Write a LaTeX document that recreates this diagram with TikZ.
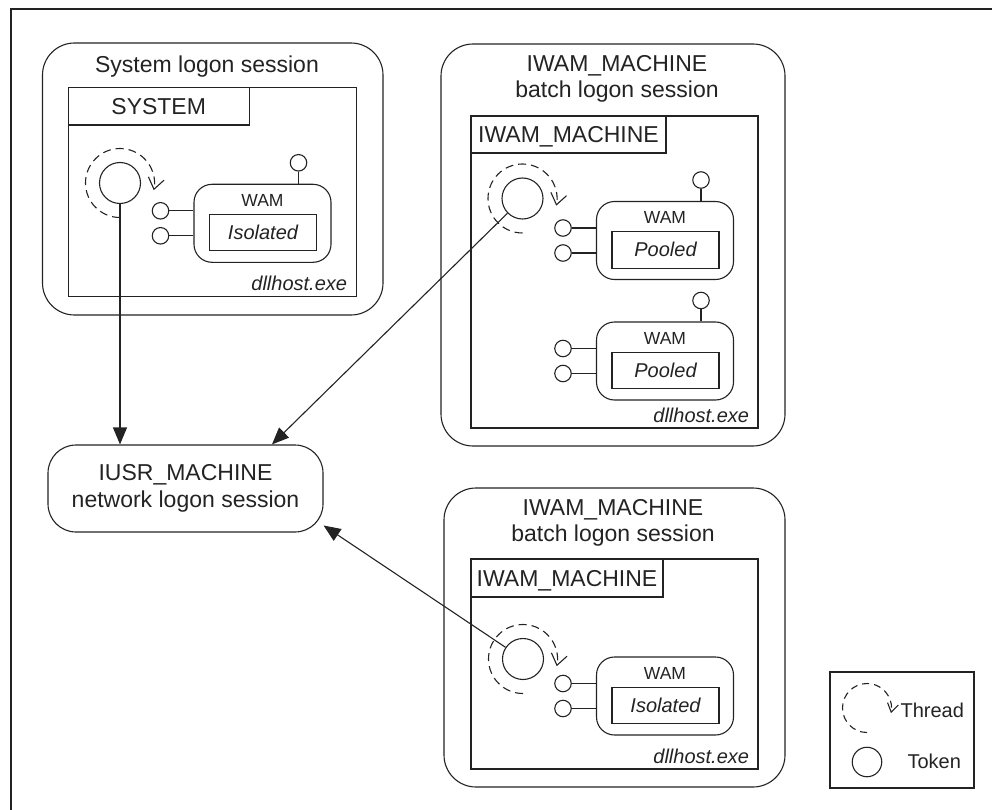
\documentclass[tikz,border=0pt]{standalone}
\usepackage{fontspec}
\setmainfont{Liberation Sans}
\usetikzlibrary{arrows.meta,calc}
\definecolor{ink}{RGB}{35,35,35}
\newcommand\bigtxt{\fontsize{23}{26.5}\selectfont}
\newcommand\wamtxt{\fontsize{17.5}{20}\selectfont}
\newcommand\modetxt{\fontsize{20}{24}\selectfont\itshape}
\newcommand\legtxt{\fontsize{20}{24}\selectfont}
\tikzset{
  session/.style={draw, rounded corners=32pt, inner sep=0pt},
  process/.style={draw, inner sep=0pt},
  acct/.style={draw, inner sep=0pt, anchor=north west, font=\bigtxt, text height=16.5pt, text depth=0pt},
  wambox/.style={draw, rounded corners=18pt, minimum width=137pt, minimum height=78pt, inner sep=0pt},
  modebox/.style={draw, minimum width=107pt, minimum height=36.5pt, inner sep=0pt, font=\modetxt, text height=14.3pt, text depth=0pt},
  token/.style={draw, circle, inner sep=0pt, minimum size=41pt},
  port/.style={draw, circle, inner sep=0pt, minimum size=16.5pt},
  thread/.style={dash pattern=on 8pt off 5pt, -{Straight Barb[length=11pt,width=16pt]}},
  legthread/.style={dash pattern=on 7pt off 5pt, -{Straight Barb[length=8.5pt,width=11pt]}},
  link/.style={-{Triangle[length=17pt,width=14pt]}},
  heading/.style={font=\bigtxt, align=center, inner sep=0pt, anchor=north},
  exe/.style={font=\modetxt, anchor=base east, inner sep=0pt},
}
% A WAM object: #1 name, #2/#3 centre, #4 isolation mode, #5 = 1 for the upper port
\newcommand\wamunit[5]{%
  \node[wambox] (#1) at (#2,#3) {};
  \node[font=\wamtxt, anchor=base, inner sep=0pt] (#1-t) at (#2,#3-17) {WAM};
  \node[modebox] (#1-m) at (#2+0.5,#3+9.3) {#4};
  \node[port] (#1-p1) at (#2-102,#3-12.5) {};
  \node[port] (#1-p2) at (#2-102,#3+12.5) {};
  \draw (#1-p1) -- (#1-p1 -| #1.west);
  \draw (#1-p2) -- (#1-p2 -| #1.west);
  \ifnum#5=1
    \node[port] (#1-p0) at (#2+36,#3-60.5) {};
    \draw (#1-p0) -- (#1-p0 |- #1.north);
  \fi
}
% dashed thread loop round a token
\newcommand\threadloop[2]{%
  \draw[thread] ($(#1.center)+(0,#2)$) arc[start angle=90, end angle=372, radius=#2];
}
\begin{document}
\begin{tikzpicture}[x=1pt, y=-1pt, line width=1.1pt, color=ink]
\useasboundingbox (0,0) rectangle (992,810);
\draw[line width=1.3pt] (992,9) -- (11,9) -- (11,810);

% System logon session
\node[session, minimum width=340.5pt, minimum height=272pt] (sesA) at (212.75,179) {};
\node[heading] (sesAt) at (207,55) {System logon session};
\node[process, minimum width=287.7pt, minimum height=209pt] (procA) at (212.2,192.2) {};
\node[acct, minimum width=180.7pt, minimum height=37.3pt] (acctA) at (procA.north west) {SYSTEM};
\node[exe] (exeA) at ($(procA.south east)+(-9,-6.5)$) {dllhost.exe};
\node[token] (tokA) at (120,183) {};
\threadloop{tokA}{34.5}
\wamunit{wamA}{262.5}{223.3}{Isolated}{1}

% IWAM batch logon session with pooled applications
\node[session, minimum width=344pt, minimum height=402pt] (sesB) at (613,245) {};
\node[heading] (sesBt) at (617,54.5) {IWAM\_MACHINE\\batch logon session};
\node[process, minimum width=287pt, minimum height=312pt] (procB) at (614.5,272) {};
\node[acct, minimum width=195pt, minimum height=37pt] (acctB) at (procB.north west) {IWAM\_MACHINE};
\node[exe] (exeB) at ($(procB.south east)+(-9,-6.5)$) {dllhost.exe};
\node[token] (tokB) at (522.5,198.5) {};
\threadloop{tokB}{34.5}
\wamunit{wamB1}{665}{240.5}{Pooled}{1}
\wamunit{wamB2}{665}{361}{Pooled}{1}

% IWAM batch logon session with an isolated application
\node[session, minimum width=341pt, minimum height=299pt] (sesC) at (614.5,637.5) {};
\node[heading] (sesCt) at (613,498.5) {IWAM\_MACHINE\\batch logon session};
\node[process, minimum width=287pt, minimum height=210pt] (procC) at (614.5,664) {};
\node[acct, minimum width=192pt, minimum height=38pt] (acctC) at (procC.north west) {IWAM\_MACHINE};
\node[exe] (exeC) at ($(procC.south east)+(-9,-6.5)$) {dllhost.exe};
\node[token] (tokC) at (523,659) {};
\threadloop{tokC}{34.5}
\wamunit{wamC}{665}{696}{Isolated}{0}

% network logon session
\node[draw, rounded corners=28pt, minimum width=275pt, minimum height=87pt, inner sep=0pt,
      font=\bigtxt, align=center] (iusr) at (185.5,488.5) {IUSR\_MACHINE\\network logon session};

\draw[link] (tokA) -- (tokA |- iusr.north);
\draw[link] (tokB) -- (iusr.27);
\draw[link] (tokC) -- (iusr.-15);

% legend
\node[draw, minimum width=144pt, minimum height=116pt, inner sep=0pt] (legend) at (902,730) {};
\coordinate (legThr) at (867,708);
\draw[legthread] ($(legThr)+(0,24.5)$) arc[start angle=90, end angle=372, radius=24.5];
\node[draw, circle, minimum size=29.5pt, inner sep=0pt] (legTok) at (867,762) {};
\node[font=\legtxt, anchor=base west, inner sep=0pt] (legThrT) at (900,717.3) {Thread};
\node[font=\legtxt, anchor=base west, inner sep=0pt] (legTokT) at (907,768) {Token};
\end{tikzpicture}
\end{document}
